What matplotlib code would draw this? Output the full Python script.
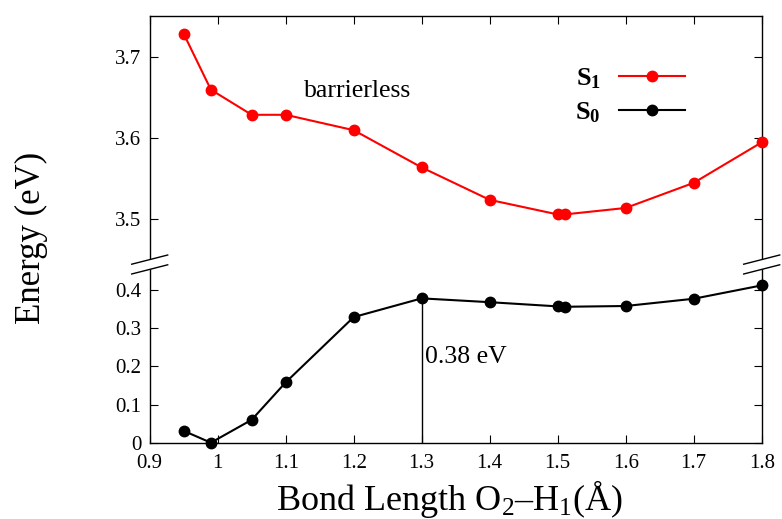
import matplotlib
matplotlib.use("Agg")
import matplotlib.pyplot as plt
from matplotlib.lines import Line2D
from matplotlib.patches import Polygon

plt.rcParams['font.family'] = ['Liberation Serif', 'DejaVu Serif']
plt.rcParams['mathtext.fontset'] = 'custom'
plt.rcParams['mathtext.rm'] = 'Liberation Serif'
plt.rcParams['mathtext.it'] = 'Liberation Serif:italic'
plt.rcParams['mathtext.bf'] = 'Liberation Serif:bold'

# ---- data ----
bond_length = [0.95, 0.99, 1.05, 1.10, 1.20, 1.30, 1.40, 1.50, 1.51, 1.60, 1.70, 1.80]
s1_energy = [3.729, 3.660, 3.629, 3.629, 3.610, 3.564, 3.524, 3.506, 3.506, 3.514, 3.545, 3.595]
s0_energy = [0.031, 0.000, 0.060, 0.158, 0.329, 0.378, 0.368, 0.357, 0.356, 0.358, 0.377, 0.412]
x_ticks = [0.9, 1.0, 1.1, 1.2, 1.3, 1.4, 1.5, 1.6, 1.7, 1.8]
x_ticklabels = ['0.9', '1', '1.1', '1.2', '1.3', '1.4', '1.5', '1.6', '1.7', '1.8']
top_yticks = [3.5, 3.6, 3.7]
bot_yticks = [0.0, 0.1, 0.2, 0.3, 0.4]
bot_yticklabels = ['0', '0.1', '0.2', '0.3', '0.4']
barrier_label = '0.38 eV'
barrier_x = 1.30

W, H = 782, 519
fig = plt.figure(figsize=(W / 100, H / 100), dpi=100)

left, right = 149.7 / W, 761.7 / W
y_top = 1 - 16.3 / H
y_mid = 1 - 264.5 / H
y_bot = 1 - 442.7 / H

ax_top = fig.add_axes([left, y_mid, right - left, y_top - y_mid])
ax_bot = fig.add_axes([left, y_bot, right - left, y_mid - y_bot])

tick_fs = 15
for ax in (ax_top, ax_bot):
    ax.set_xlim(0.9, 1.8)
    ax.set_xticks(x_ticks)
    for s in ax.spines.values():
        s.set_linewidth(1.0)
    ax.tick_params(direction='in', length=5.5, width=0.8, labelsize=tick_fs,
                   right=True, pad=6)

ax_top.set_ylim(3.4442, 3.7506)
ax_top.set_yticks(top_yticks)
ax_top.set_yticklabels([f'{v:.1f}' for v in top_yticks])
ax_top.spines['bottom'].set_visible(False)
ax_top.tick_params(axis='x', top=True, bottom=False, labelbottom=False)

ax_bot.set_ylim(0.0, 0.4667)
ax_bot.set_yticks(bot_yticks)
ax_bot.set_yticklabels(bot_yticklabels)
ax_bot.spines['top'].set_visible(False)
ax_bot.set_xticklabels(x_ticklabels)
ax_bot.tick_params(axis='x', top=False, pad=8)

# series
ax_top.plot(bond_length, s1_energy, color='#ff0000', lw=1.5, marker='o',
            ms=7.5, clip_on=False, zorder=5)
ax_bot.plot(bond_length, s0_energy, color='black', lw=1.5, marker='o',
            ms=7.5, clip_on=False, zorder=5)

# barrier line and annotations
i_b = bond_length.index(barrier_x)
ax_bot.vlines(barrier_x, 0, s0_energy[i_b], color='black', lw=1.0)
ax_bot.text(barrier_x + 0.005, 0.2254, barrier_label, fontsize=18.5,
            ha='left', va='center')
ax_top.text(1.127, 3.659, 'barrierless', fontsize=18.5, ha='left', va='center')

# legend
handles = [Line2D([], [], color='#ff0000', lw=1.5, marker='o', ms=7.5),
           Line2D([], [], color='black', lw=1.5, marker='o', ms=7.5)]
labels = [r'$\mathbf{S_1}$', r'$\mathbf{S_0}$']
ax_top.legend(handles, labels, loc='upper right', bbox_to_anchor=(0.875, 0.80),
              frameon=False, markerfirst=False, fontsize=19, handlelength=2.5,
              handletextpad=0.7, labelspacing=0.36, borderpad=0, borderaxespad=0)

# axis labels
fig.text(31 / W, 1 - 238 / H, 'Energy (eV)', rotation=90, fontsize=25,
         ha='center', va='center')
fig.text((left + right) / 2 - 6 / W, 1 - 499 / H,
         r'Bond Length O$_{\mathrm{2}}$–H$_{\mathrm{1}}$(Å)',
         fontsize=26, ha='center', va='center')

# axis-break marks
hw = 18.0 / W
dy = 4.6 / H
gap = 4.9 / H
for xs in (left, right):
    poly = Polygon([(xs - hw, y_mid + gap - dy), (xs + hw, y_mid + gap + dy),
                    (xs + hw, y_mid - gap + dy), (xs - hw, y_mid - gap - dy)],
                   closed=True, transform=fig.transFigure, facecolor='white',
                   edgecolor='none', zorder=10)
    fig.patches.append(poly)
    for off in (gap, -gap):
        fig.add_artist(Line2D([xs - hw, xs + hw], [y_mid + off - dy, y_mid + off + dy],
                              transform=fig.transFigure, color='black', lw=1.0,
                              zorder=11))

fig.savefig('out.png', dpi=100)
